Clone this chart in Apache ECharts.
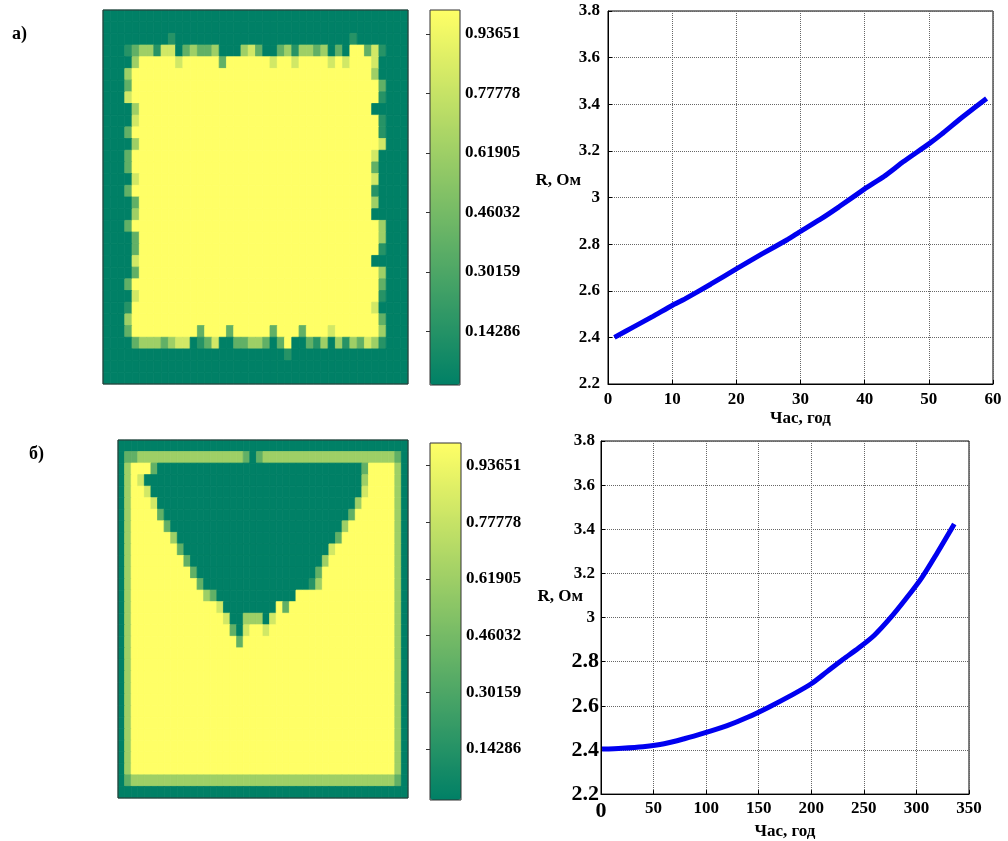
<!DOCTYPE html>
<html><head><meta charset="utf-8">
<script src="https://cdn.jsdelivr.net/npm/echarts@6/dist/echarts.min.js"></script>
<style>html,body{margin:0;padding:0;background:#fff}#c{width:1008px;height:841px}</style>
</head><body><div id="c"></div>
<script>
// ---- data ----
// heatmap cell levels: '0'..'5' -> values below
const levelValues = [0, 0.15, 0.38, 0.62, 0.82, 1];
const heatmapA = [
"0000000000 0000000000 0000000000 0000000000 00",
"0000000000 0000000000 0000000000 0000000000 00",
"0000000001 0000000000 0000000000 0000100000 00",
"0001233144 0232230003 4200231332 3020552410 00",
"0000355555 4555552555 5554554555 5454555400 00",
"0003555555 5555555555 5555555555 5555555300 00",
"0002555555 5555555555 5555555555 5555555520 00",
"0004555555 5555555555 5555555555 5555555510 00",
"0000355555 5555555555 5555555555 5555555000 00",
"0000455555 5555555555 5555555555 5555555510 00",
"0002555555 5555555555 5555555555 5555555510 00",
"0000355555 5555555555 5555555555 5555555540 00",
"0002555555 5555555555 5555555555 5555555400 00",
"0002555555 5555555555 5555555555 5555555200 00",
"0000455555 5555555555 5555555555 5555555400 00",
"0002555555 5555555555 5555555555 5555555100 00",
"0000255555 5555555555 5555555555 5555555300 00",
"0000355555 5555555555 5555555555 5555555000 00",
"0002555555 5555555555 5555555555 5555555530 00",
"0000255555 5555555555 5555555555 5555555530 00",
"0000255555 5555555555 5555555555 5555555510 00",
"0000455555 5555555555 5555555555 5555555000 00",
"0000255555 5555555555 5555555555 5555555530 00",
"0002555555 5555555555 5555555555 5555555520 00",
"0000455555 5555555555 5555555555 5555555510 00",
"0001555555 5555555555 5555555555 5555555400 00",
"0003555555 5555555555 5555555555 5555555520 00",
"0002555555 5552555255 5552555255 5455555530 00",
"0000233323 4401240022 3320250021 3031324310 00",
"0000000000 0000000000 0000010000 0000000000 00",
"0000000000 0000000000 0000000000 0000000000 00",
"0000000000 0000000000 0000000000 0000000000 00"
];
const heatmapB = [
"0000000000 0000000000 0000000000 0000000000 0000",
"0223333333 3333333332 0233333333 3333333333 3320",
"0355520000 0000000000 0000000000 0000000255 5530",
"0354000000 0000000000 0000000000 0000000355 5530",
"0355400000 0000000000 0000000000 0000000455 5530",
"0355540000 0000000000 0000000000 0000003555 5530",
"0355552000 0000000000 0000000000 0000025555 5530",
"0355555200 0000000000 0000000000 0000355555 5530",
"0355555530 0000000000 0000000000 0002555555 5530",
"0355555552 0000000000 0000000000 0045555555 5530",
"0355555555 2000000000 0000000000 0355555555 5530",
"0355555555 5200000000 0000000000 2555555555 5530",
"0355555555 5520000000 0000000001 3555555555 5530",
"0355555555 5553200000 0000000555 5555555555 5530",
"0355555555 5555540000 0000525555 5555555555 5530",
"0355555555 5555554003 3304555555 5555555555 5530",
"0355555555 5555555204 5545555555 5555555555 5530",
"0355555555 5555555525 5555555555 5555555555 5530",
"0355555555 5555555555 5555555555 5555555555 5530",
"0355555555 5555555555 5555555555 5555555555 5530",
"0355555555 5555555555 5555555555 5555555555 5530",
"0355555555 5555555555 5555555555 5555555555 5530",
"0355555555 5555555555 5555555555 5555555555 5530",
"0355555555 5555555555 5555555555 5555555555 5530",
"0355555555 5555555555 5555555555 5555555555 5530",
"0355555555 5555555555 5555555555 5555555555 5530",
"0355555555 5555555555 5555555555 5555555555 5530",
"0355555555 5555555555 5555555555 5555555555 5530",
"0355555555 5555555555 5555555555 5555555555 5530",
"0233333333 3333333333 3333333333 3333333333 3320",
"0000000000 0000000000 0000000000 0000000000 0000"
];
const colorbarTicks = ['0.14286', '0.30159', '0.46032', '0.61905', '0.77778', '0.93651'];

const hoursA  = [1, 4, 7, 10, 12, 16, 20, 24, 28, 30, 33, 36, 40, 43, 46, 50, 52, 55, 59];
const resistA = [2.40, 2.445, 2.49, 2.537, 2.565, 2.628, 2.694, 2.758, 2.82, 2.855, 2.905, 2.96, 3.037, 3.09, 3.153, 3.23, 3.272, 3.34, 3.425];

const hoursB  = [1, 20, 40, 60, 80, 100, 120, 140, 160, 180, 200, 215, 230, 245, 260, 275, 290, 305, 320, 336];
const resistB = [2.404, 2.408, 2.415, 2.428, 2.452, 2.48, 2.51, 2.549, 2.595, 2.645, 2.70, 2.755, 2.81, 2.862, 2.92, 2.997, 3.085, 3.18, 3.295, 3.424];

const xTicksA = [0, 10, 20, 30, 40, 50, 60];
const xTicksB = [0, 50, 100, 150, 200, 250, 300, 350];
const yTicksR = [2.2, 2.4, 2.6, 2.8, 3.0, 3.2, 3.4, 3.6, 3.8];

const panelLabels = ['а)', 'б)'];
const yName = 'R, Ом';
const xName = 'Час, год';

// ---- build ----
function gridRows(rows) { return rows.map(r => r.replace(/ /g, '')); }
function cells(rows) {
  const out = [];
  gridRows(rows).forEach((row, r) => {
    row.split('').forEach((ch, c) => out.push([c, r, levelValues[+ch]]));
  });
  return out;
}
function idx(n) { return Array.from({length: n}, (_, i) => String(i)); }
const rA = gridRows(heatmapA), rB = gridRows(heatmapB);
const FONT = 'Liberation Serif';
const txt = {fontFamily: FONT, fontWeight: 'bold', color: '#000', fontSize: 17};
const cbVals = colorbarTicks.map(Number);
const summer = ['#008066', '#ffff66'];

function renderCell(params, api) {
  const p = api.coord([api.value(0), api.value(1)]);
  const s = api.size([1, 1]);
  const col = api.visual('color');
  return {type: 'rect',
    shape: {x: p[0] - s[0] / 2, y: p[1] - s[1] / 2, width: s[0], height: s[1]},
    style: {fill: col, stroke: col, lineWidth: 0.8}};
}
function cbAxisRight(g) {
  return {gridIndex: g, type: 'value', min: 0, max: 1, position: 'right',
    axisLine: {show: false}, splitLine: {show: false},
    axisTick: {show: true, inside: true, length: 4, customValues: cbVals, lineStyle: {color: '#333'}},
    axisLabel: Object.assign({customValues: cbVals, margin: 5,
      formatter: v => colorbarTicks[cbVals.findIndex(t => Math.abs(t - v) < 1e-6)]}, txt)};
}
function cbAxisLeft(g) {
  return {gridIndex: g, type: 'value', min: 0, max: 1, position: 'left',
    axisLine: {show: false}, splitLine: {show: false}, axisLabel: {show: false},
    axisTick: {show: true, inside: true, length: 4, customValues: cbVals, lineStyle: {color: '#333'}}};
}
const fmtR = v => String(+(+v).toFixed(1));
const split = {show: true, lineStyle: {type: 'dotted', color: '#666', width: 1}};
const tick = {show: true, inside: true, length: 4, lineStyle: {color: '#000'}};
const aline = {show: true, lineStyle: {color: '#000'}};
const nameFont = 'bold 17px "Liberation Serif"';

const option = {
  animation: false,
  backgroundColor: '#fff',
  grid: [
    {left: 103, top: 10, width: 305, height: 374, show: true, borderColor: '#333', borderWidth: 1, backgroundColor: 'transparent', z: 10},
    {left: 430, top: 10, width: 30, height: 375, show: true, borderColor: '#333', borderWidth: 1, backgroundColor: 'transparent', z: 10},
    {left: 608, top: 11, width: 385, height: 373, show: true, borderColor: '#000', borderWidth: 1, backgroundColor: 'transparent'},
    {left: 118, top: 440, width: 290, height: 358, show: true, borderColor: '#333', borderWidth: 1, backgroundColor: 'transparent', z: 10},
    {left: 430, top: 443, width: 31, height: 357, show: true, borderColor: '#333', borderWidth: 1, backgroundColor: 'transparent', z: 10},
    {left: 601, top: 441, width: 368, height: 357, show: true, borderColor: '#000', borderWidth: 1, backgroundColor: 'transparent'}
  ],
  xAxis: [
    {gridIndex: 0, type: 'category', data: idx(rA[0].length), show: false},
    {gridIndex: 1, type: 'value', min: 0, max: 1, show: false},
    {gridIndex: 2, type: 'value', min: xTicksA[0], max: xTicksA[xTicksA.length - 1], interval: 10,
      axisLine: aline, axisTick: tick, splitLine: split,
      axisLabel: Object.assign({margin: 7}, txt),
      name: xName, nameLocation: 'middle', nameGap: 26, nameTextStyle: txt},
    {gridIndex: 3, type: 'category', data: idx(rB[0].length), show: false},
    {gridIndex: 4, type: 'value', min: 0, max: 1, show: false},
    {gridIndex: 5, type: 'value', min: xTicksB[0], max: xTicksB[xTicksB.length - 1], interval: 50,
      axisLine: aline, axisTick: tick, splitLine: split,
      axisLabel: {margin: 6, formatter: v => v === 0 ? '{big|0}' : '{sm|' + v + '}',
        rich: {big: {fontFamily: FONT, fontWeight: 'bold', fontSize: 22, color: '#000'},
               sm: {fontFamily: FONT, fontWeight: 'bold', fontSize: 17, color: '#000'}}},
      name: xName, nameLocation: 'middle', nameGap: 25, nameTextStyle: txt}
  ],
  yAxis: [
    {gridIndex: 0, type: 'category', data: idx(rA.length), inverse: true, show: false},
    cbAxisRight(1), cbAxisLeft(1),
    {gridIndex: 2, type: 'value', min: yTicksR[0], max: yTicksR[yTicksR.length - 1], interval: 0.2,
      axisLine: aline, axisTick: tick, splitLine: split,
      axisLabel: Object.assign({margin: 8, formatter: fmtR}, txt)},
    {gridIndex: 3, type: 'category', data: idx(rB.length), inverse: true, show: false},
    cbAxisRight(4), cbAxisLeft(4),
    {gridIndex: 5, type: 'value', min: yTicksR[0], max: yTicksR[yTicksR.length - 1], interval: 0.2,
      axisLine: aline, axisTick: tick, splitLine: split,
      axisLabel: {margin: 2, formatter: v => (v < 2.9 ? '{big|' : '{sm|') + fmtR(v) + '}',
        rich: {big: {fontFamily: FONT, fontWeight: 'bold', fontSize: 22, color: '#000'},
               sm: {fontFamily: FONT, fontWeight: 'bold', fontSize: 17, color: '#000', padding: [0, 4, 0, 0]}}}}
  ],
  visualMap: [
    {type: 'continuous', seriesIndex: 0, dimension: 2, min: 0, max: 1, left: 430, top: 10, itemWidth: 30, itemHeight: 375,
      calculable: false, padding: 0, hoverLink: false, inRange: {color: summer}},
    {type: 'continuous', seriesIndex: 2, dimension: 2, min: 0, max: 1, left: 430, top: 443, itemWidth: 31, itemHeight: 357,
      calculable: false, padding: 0, hoverLink: false, inRange: {color: summer}}
  ],
  series: [
    {type: 'custom', xAxisIndex: 0, yAxisIndex: 0, data: cells(heatmapA), encode: {x: 0, y: 1},
      renderItem: renderCell, silent: true},
    {type: 'line', xAxisIndex: 2, yAxisIndex: 3, data: hoursA.map((h, i) => [h, resistA[i]]),
      showSymbol: false, smooth: 0.15, lineStyle: {color: '#0000f0', width: 5}, itemStyle: {color: '#0000f0'}},
    {type: 'custom', xAxisIndex: 3, yAxisIndex: 4, data: cells(heatmapB), encode: {x: 0, y: 1},
      renderItem: renderCell, silent: true},
    {type: 'line', xAxisIndex: 5, yAxisIndex: 7, data: hoursB.map((h, i) => [h, resistB[i]]),
      showSymbol: false, smooth: 0.3, lineStyle: {color: '#0000f0', width: 5}, itemStyle: {color: '#0000f0'}}
  ],
  graphic: [
    {type: 'text', left: 12, top: 25, style: {text: panelLabels[0], font: 'bold 18px "Liberation Serif"', fill: '#000'}},
    {type: 'text', left: 29, top: 445, style: {text: panelLabels[1], font: 'bold 18px "Liberation Serif"', fill: '#000'}},
    {type: 'text', x: 581, y: 181, style: {text: yName, font: nameFont, fill: '#000', align: 'right', verticalAlign: 'middle'}},
    {type: 'text', x: 583, y: 597, style: {text: yName, font: nameFont, fill: '#000', align: 'right', verticalAlign: 'middle'}}
  ]
};
const chart = echarts.init(document.getElementById('c'), null, {renderer: 'canvas'});
chart.setOption(option);
</script>
</body></html>
